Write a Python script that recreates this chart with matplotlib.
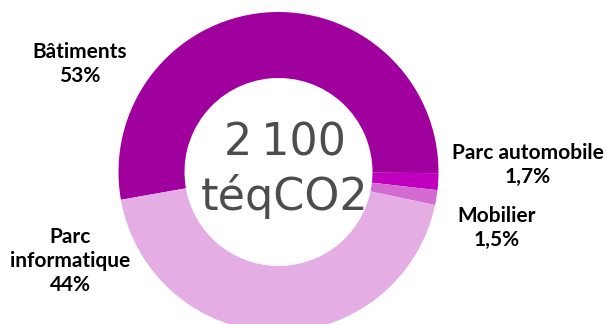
import matplotlib.pyplot as plt

# Répartition des émissions (%)
postes = ['Bâtiments', 'Parc automobile', 'Mobilier', 'Parc\ninformatique']
parts = [53, 1.7, 1.5, 44]
couleurs = ['#a0009e', '#c000be', '#d36bd3', '#e4ade3']
total_txt = '2\u2009100\ntéqCO2'

W, H = 607, 324
fig = plt.figure(figsize=(W / 100, H / 100), dpi=100)
ax = fig.add_axes([0, 0, 1, 1])

# anneau : centre et rayons en pixels
cx, cy, R = 278.5, H - 172, 160
ax.pie(parts, colors=couleurs, startangle=190, counterclock=False,
       center=(cx, cy), radius=R, frame=True,
       wedgeprops=dict(width=R - 94, linewidth=0))
ax.set_xlim(0, W)
ax.set_ylim(0, H)
ax.set_aspect('equal')
ax.axis('off')

# total au centre, une ligne après l'autre
for ligne, yb in zip(total_txt.split('\n'), [155, 210]):
    ax.text(285, H - yb, ligne, ha='center', va='baseline', fontsize=32,
            family='DejaVu Sans', color='#4d4d4d')

def pct(v):
    return f'{v:g}'.replace('.', ',') + '%'

# étiquettes : centre du bloc de texte en pixels
pos = [(80, 64), (528, 165), (497, 228), (70, 261)]
for nom, v, (x, y) in zip(postes, parts, pos):
    ax.text(x, H - y, nom + '\n' + pct(v), ha='center', va='center',
            fontsize=15, weight='bold', family='Lato', color='black',
            linespacing=1.25)

fig.savefig('out.png', dpi=100)
